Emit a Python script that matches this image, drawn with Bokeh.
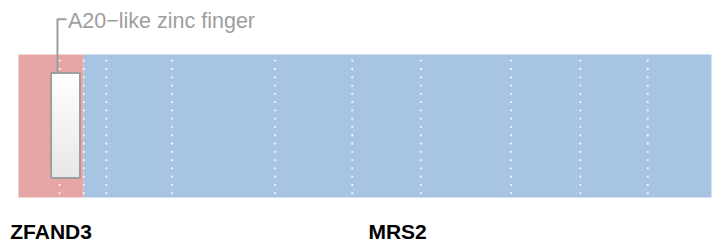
from bokeh.plotting import figure
from bokeh.models import Range1d
from bokeh.embed import file_html
from bokeh.resources import INLINE
from bokeh.core.properties import value
import numpy as np

# ---- data (fusion protein, amino-acid coordinates) ----
gene_names = ["ZFAND3", "MRS2"]
seg_start = [0, 46]
seg_end = [46, 489]
seg_colors = ["#E6A6A6", "#A8C4E3"]
exon_bounds = [29, 46, 62, 108.5, 181, 235.5, 284, 347.5, 396.5, 444]
domain_names = ["A20\u2212like zinc finger"]
domain_start = [23.0]
domain_end = [43.4]

# ---- layout / style constants ----
W, H = 719, 247
PX_PER_AA = 693 / 489.0
X0 = -18 / PX_PER_AA
BAR_BOTTOM, BAR_TOP = 50, 193
BOX_BOTTOM, BOX_TOP = 69.5, 174.5
DOT_FIRST, DOT_STEP, DOT_N = 54.3, 8.28, 17
ANNOT_Y = 228.3
ANNOT_DX = 4.5             # aa offset of leader from domain start
ANNOT_LEN = 6.4
LABEL_Y = 16.5
GREY = "#9e9e9e"

p = figure(width=W, height=H, output_backend="svg", toolbar_location=None,
           x_range=Range1d(X0, X0 + W / PX_PER_AA), y_range=Range1d(0, H),
           x_axis_type=None, y_axis_type=None, min_border=0)
p.outline_line_color = None
p.xgrid.visible = False
p.ygrid.visible = False

# gene segments
p.quad(left=seg_start, right=seg_end, bottom=BAR_BOTTOM, top=BAR_TOP,
       fill_color=seg_colors, line_color=None)

# exon boundaries as white dotted lines
dot_y = DOT_FIRST + DOT_STEP * np.arange(DOT_N)
dx, dy = np.meshgrid(exon_bounds, dot_y)
p.scatter(dx.ravel(), dy.ravel(), marker="square", size=1.8,
          fill_color="white", line_color=None, fill_alpha=0.9)

# domain boxes with vertical gradient
for s, e, name in zip(domain_start, domain_end, domain_names):
    n = 64
    t = np.linspace(0, 1, n)  # 0 bottom -> 1 top
    shade = (232 + (255 - 232) * t).astype(np.uint8)
    img = np.zeros((n, 1), dtype=np.uint32)
    view = img.view(dtype=np.uint8).reshape((n, 1, 4))
    view[:, 0, 0] = shade
    view[:, 0, 1] = shade
    view[:, 0, 2] = shade
    view[:, 0, 3] = 255
    p.image_rgba(image=[img], x=s, y=BOX_BOTTOM, dw=e - s, dh=BOX_TOP - BOX_BOTTOM)
    p.quad(left=[s], right=[e], bottom=[BOX_BOTTOM], top=[BOX_TOP],
           fill_alpha=0, line_color=GREY, line_width=2)
    ax = s + ANNOT_DX
    p.line([ax, ax, ax + ANNOT_LEN], [BOX_TOP, ANNOT_Y, ANNOT_Y],
           line_color=GREY, line_width=2)
    p.text(x=[ax + ANNOT_LEN + 1.0], y=[ANNOT_Y - 2], text=[name],
           text_font=value("Liberation Sans"), text_font_size="21.5px",
           text_color=GREY, text_baseline="alphabetic", text_align="left")

# gene labels
mid = [(a + b) / 2 for a, b in zip(seg_start, seg_end)]
p.text(x=mid, y=[LABEL_Y] * len(mid), text=gene_names,
       text_font=value("Liberation Sans"), text_font_size="21px",
       text_font_style="bold", text_color="black",
       text_baseline="alphabetic", text_align="center")

open("out.html", "w").write(file_html(p, INLINE))
